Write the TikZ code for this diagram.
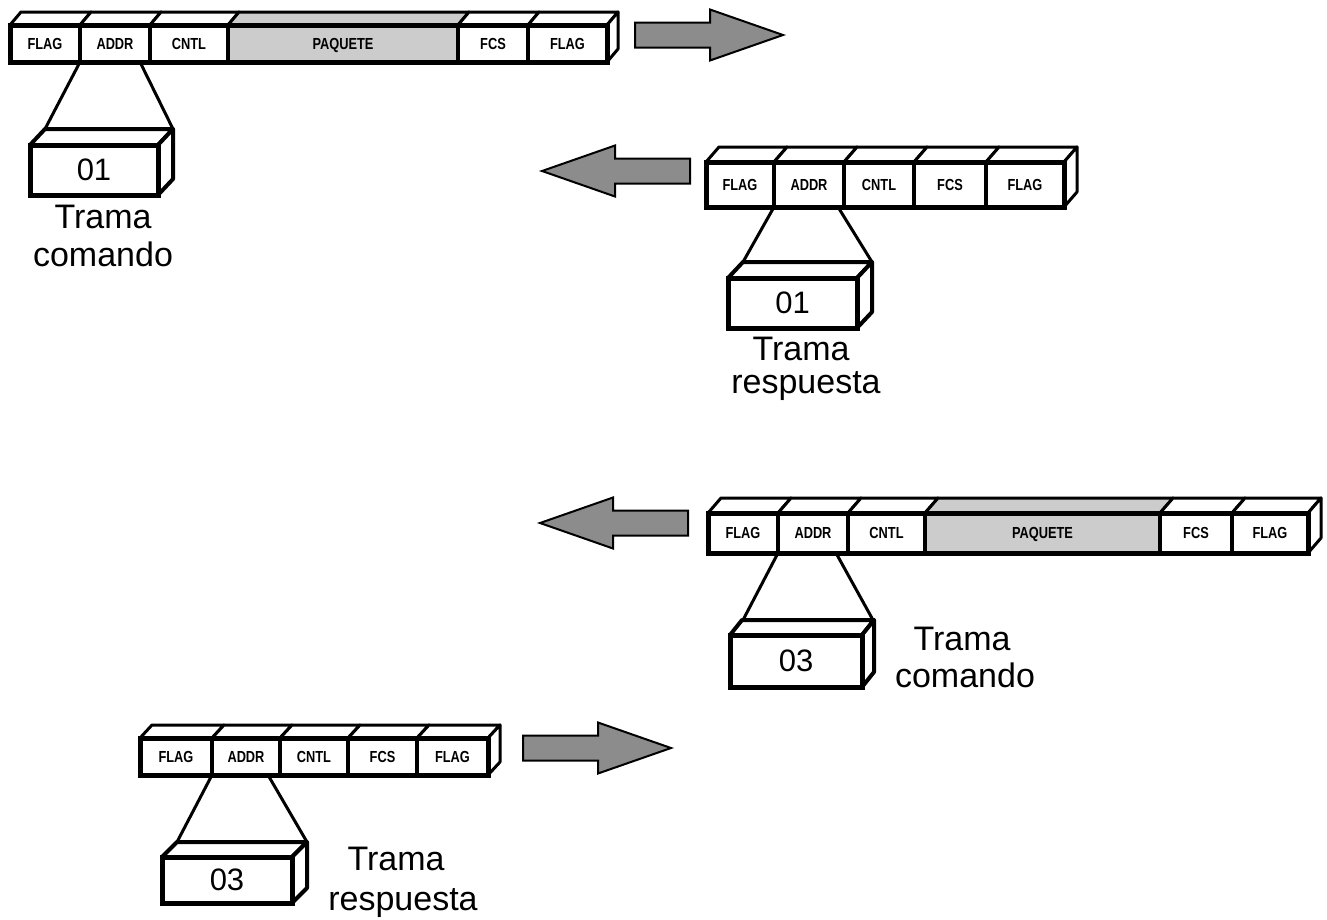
\documentclass[tikz,border=0pt]{standalone}
\usepackage{fontspec}
\setmainfont{Liberation Sans}
\usetikzlibrary{calc}

\tikzset{
  cellbase/.style={draw=black, line width=3.5pt, outer sep=0pt, inner sep=0pt,
    text height=11.5pt, text depth=0pt,
    font=\fontsize{16}{16}\selectfont\bfseries},
  cell/.style={cellbase, fill=white},
  paq/.style={cellbase, fill=black!20},
  topcell/.style={draw=black, line width=3pt, fill=white, line join=round},
  toppaq/.style={draw=black, line width=3pt, fill=black!20, line join=round},
  outer/.style={draw=black, line width=5pt},
  magbox/.style={draw=black, line width=5pt, fill=white, outer sep=0pt, inner sep=0pt,
    font=\fontsize{31}{31}\selectfont},
  magface/.style={draw=black, line width=4pt, fill=white, line join=round},
  zoomline/.style={draw=black, line width=3pt},
  caption/.style={font=\fontsize{34}{38}\selectfont, inner sep=0pt, anchor=base},
  bigarrow/.style={draw=black, line width=2pt, fill=black!45, line join=miter},
  rarrow/.pic={\path[bigarrow] (0,-12.5) -- (75,-12.5) -- (75,-25.5) -- (148,0)
      -- (75,25.5) -- (75,12.5) -- (0,12.5) -- cycle;}
}

% narrow field label, set a little left of the cell centre
\newcommand\fieldtext[1]{\scalebox{0.8}[1]{#1}\hspace{7pt}}

% #1 name prefix, #2 top of front face, #3 bottom of front face,
% #4/#5 depth offsets, #6 cells name/left/right/text/style, #7 last cell
\newcommand\hdlcframe[7]{%
  \pgfmathsetmacro\cellh{#3-#2}%
  \foreach \n/\l/\r/\t/\s in {#6}{%
    \pgfmathsetmacro\cellw{\r-\l}%
    \node[\s, minimum width=\cellw pt, minimum height=\cellh pt, anchor=north west]
      (#1\n) at (\l,#2) {\fieldtext{\t}};
  }%
  \foreach \n/\l/\r/\t/\s in {#6}{%
    \filldraw[top\s] (#1\n.north west) -- ++(#4,-#5)
      -- ($(#1\n.north east)+(#4,-#5)$) -- (#1\n.north east) -- cycle;
  }%
  \filldraw[topcell] (#1#7.north east) -- ++(#4,-#5)
    -- ($(#1#7.south east)+(#4,-#5)$) -- (#1#7.south east) -- cycle;
  \draw[outer] (#1a.north west) rectangle (#1#7.south east);
}

% #1 name, #2 corner, #3 width, #4 height, #5 text, #6/#7 depth offsets
\newcommand\addrbox[7]{%
  \node[magbox, minimum width=#3pt, minimum height=#4pt, anchor=north west] (#1) at #2 {#5};
  \coordinate (#1tl) at ($(#1.north west)+(#6,-#7)$);
  \coordinate (#1tr) at ($(#1.north east)+(#6,-#7)$);
  \filldraw[magface] (#1.north west) -- (#1tl) -- (#1tr) -- (#1.north east) -- cycle;
  \filldraw[magface] (#1.north east) -- (#1tr) -- ($(#1.south east)+(#6,-#7)$)
    -- (#1.south east) -- cycle;
  \draw[magbox, fill=none] (#1.north west) rectangle (#1.south east);
}

\begin{document}
\begin{tikzpicture}[x=1pt, y=-1pt]
  \useasboundingbox[fill=white] (0,0) rectangle (1327,919);

  % ---------- command frame, address 01 ----------
  \hdlcframe{F1}{25}{62}{11}{13}{a/10/80/FLAG/cell, b/80/150/ADDR/cell,
    c/150/228/CNTL/cell, d/228/458/PAQUETE/paq, e/458/528/FCS/cell,
    f/528/607/FLAG/cell}{f}
  \coordinate (F1bR) at ($(F1b.south east)+(-10,0)$);
  \draw[zoomline] (F1b.south west) -- (30+15,145-16);
  \draw[zoomline] (F1bR) -- (158+15,145-16);
  \addrbox{M1}{(30,145)}{128}{50}{01}{15}{16}
  \node[caption] (T1a) at (103,228) {Trama};
  \node[caption] (T1b) at (103,266) {comando};
  \pic at (635,35) {rarrow};

  % ---------- response frame, address 01 ----------
  \hdlcframe{F2}{162}{207}{13}{15}{a/706/774/FLAG/cell, b/774/844/ADDR/cell,
    c/844/914/CNTL/cell, d/914/986/FCS/cell, e/986/1064/FLAG/cell}{e}
  \coordinate (F2bR) at ($(F2b.south east)+(-6,0)$);
  \draw[zoomline] (F2b.south west) -- (728+15,278-16);
  \draw[zoomline] (F2bR) -- (857+15,278-16);
  \addrbox{M2}{(728,278)}{129}{50}{01}{15}{16}
  \node[caption] (T2a) at (801,360) {Trama};
  \node[caption] (T2b) at (806,393) {respuesta};
  \pic[xscale=-1] at (690,171) {rarrow};

  % ---------- command frame, address 03 ----------
  \hdlcframe{F3}{513}{553}{13}{15}{a/708/778/FLAG/cell, b/778/848/ADDR/cell,
    c/848/925/CNTL/cell, d/925/1160/PAQUETE/paq, e/1160/1232/FCS/cell,
    f/1232/1308/FLAG/cell}{f}
  \coordinate (F3bR) at ($(F3b.south east)+(-12,0)$);
  \draw[zoomline] (F3b.south west) -- (730+13,635-15);
  \draw[zoomline] (F3bR) -- (862+11,635-15);
  \addrbox{M3}{(730,635)}{132}{52}{03}{12}{15}
  \node[caption] (T3a) at (962,650) {Trama};
  \node[caption] (T3b) at (965,687) {comando};
  \pic[xscale=-1] at (688,523) {rarrow};

  % ---------- response frame, address 03 ----------
  \hdlcframe{F4}{738}{775}{12}{13}{a/140/212/FLAG/cell, b/212/280/ADDR/cell,
    c/280/348/CNTL/cell, d/348/417/FCS/cell, e/417/488/FLAG/cell}{e}
  \coordinate (F4bR) at ($(F4b.south east)+(-12,0)$);
  \draw[zoomline] (F4b.south west) -- (162+15,857-15);
  \draw[zoomline] (F4bR) -- (292+15,857-15);
  \addrbox{M4}{(162,857)}{130}{46}{03}{15}{15}
  \node[caption] (T4a) at (396,870) {Trama};
  \node[caption] (T4b) at (403,910) {respuesta};
  \pic at (523,748) {rarrow};
\end{tikzpicture}
\end{document}
